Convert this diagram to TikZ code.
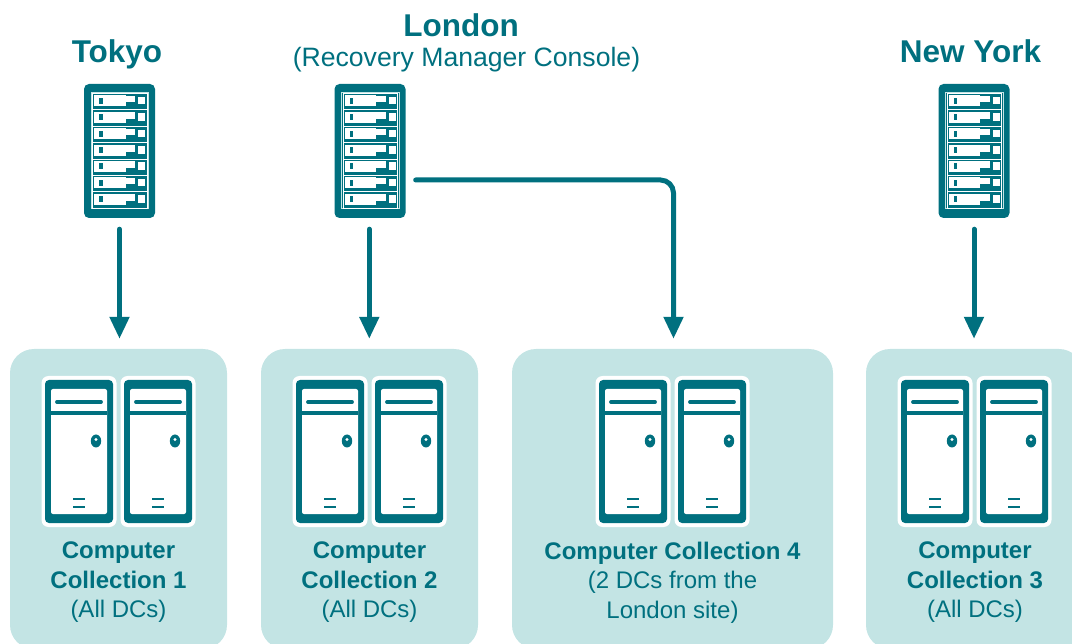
\documentclass[tikz,border=0pt]{standalone}
\usepackage{fontspec}
\setmainfont{Liberation Sans}
\usetikzlibrary{arrows.meta,calc}
\definecolor{teal1}{HTML}{00707F}
\definecolor{pale}{HTML}{C3E4E4}
\tikzset{
  x=1pt,y=-1pt,
  rackbody/.style={draw=none,fill=teal1,rounded corners=5pt,minimum width=71pt,minimum height=134pt,inner sep=0pt},
  panel/.style={draw=none,fill=pale,rounded corners=24pt,inner sep=0pt,minimum height=300pt},
  link/.style={draw=teal1,line width=5pt,line cap=round,-{Triangle[length=22pt,width=19pt]}},
  citytitle/.style={text=teal1,font=\fontsize{31.5}{34}\selectfont\bfseries,inner sep=0pt},
  sublabel/.style={text=teal1,font=\fontsize{26.6}{28}\selectfont,inner sep=0pt},
  coll/.style={text=teal1,align=center,inner sep=0pt,font=\fontsize{24}{29.5}\selectfont},
  rack/.pic={
    \draw[pale,line width=.9pt] (-28.5,-59) rectangle (29,57);
    \foreach \r in {0,...,6}{
      \begin{scope}[yshift=-\r*16.35pt]
        \draw[white,line width=.9pt] (-27,-57.4) rectangle (27.5,-41.05);
        \fill[white] (-25.5,-55.5) rectangle (6,-44.5);
        \fill[white] (6,-55) rectangle (15.5,-48.5);
        \fill[white] (18.5,-54) rectangle (25.5,-46.5);
        \fill[teal1] (-20.5,-53) rectangle (-17,-47);
      \end{scope}}
  },
  tower/.pic={
    \fill[white] (-37.5,0) [rounded corners=7pt] rectangle (37.5,151);
    \fill[teal1] (-34,4) [rounded corners=4pt] rectangle (34,147);
    \fill[white] (-28,13) [rounded corners=2pt] rectangle (28,138);
    \fill[teal1] (-28,35) rectangle (28,39);
    \draw[teal1,line width=3.8pt,line cap=round] (-22,26) -- (22,26);
    \fill[teal1] (17,65) ellipse [x radius=5.2pt,y radius=6.5pt];
    \fill[white] (17,63.5) circle [radius=1.7pt];
    \draw[teal1,line width=2.6pt] (-6,123) -- (5.5,123);
    \draw[teal1,line width=2.6pt] (-6,131) -- (5.5,131);
  },
  towerpair/.pic={
    \pic at (-39.5,0) {tower};
    \pic at (39.5,0) {tower};
  }
}
\begin{document}
\begin{tikzpicture}
\useasboundingbox (0,0) rectangle (1072,644);
\clip (0,0) rectangle (1072,644);
% panels
\node[panel,minimum width=217pt] (coll1) at (118.5,499) {};
\node[panel,minimum width=217pt] (coll2) at (369.5,499) {};
\node[panel,minimum width=321pt] (coll4) at (672.5,499) {};
\node[panel,minimum width=217pt] (coll3) at (974.5,499) {};
% racks
\node[rackbody] (tokyo) at (119.5,151) {};
\node[rackbody] (london) at (370,151) {};
\node[rackbody] (newyork) at (974,151) {};
\pic at (tokyo.center) {rack};
\pic at (london.center) {rack};
\pic at (newyork.center) {rack};
% towers
\pic at (118.5,376) {towerpair};
\pic at (369.5,376) {towerpair};
\pic at (672.5,376) {towerpair};
\pic at (974.5,376) {towerpair};
% titles
\node[citytitle] (ttokyo) at (117,54) {Tokyo};
\node[citytitle] (tlondon) at (461,25) {London};
\node[sublabel] (tconsole) at (466.5,60) {(Recovery Manager Console)};
\node[citytitle] (tnewyork) at (970.5,51) {New York};
% labels
\node[coll] (l1) at (118.5,582.5) {\textbf{Computer}\\\textbf{Collection 1}\\(All DCs)};
\node[coll] (l2) at (369.5,582.5) {\textbf{Computer}\\\textbf{Collection 2}\\(All DCs)};
\node[coll] (l4) at (672.5,582.5) {\textbf{Computer Collection 4}\\(2 DCs from the\\London site)};
\node[coll] (l3) at (975,582.5) {\textbf{Computer}\\\textbf{Collection 3}\\(All DCs)};
% connectors
\draw[link,shorten <=11pt,shorten >=10pt] (tokyo.south) -- (tokyo.south |- coll1.north);
\draw[link,shorten <=11pt,shorten >=10pt] ([xshift=-.7pt]london.south) -- ([xshift=-.7pt]london.south |- coll2.north);
\draw[link,shorten <=11pt,shorten >=10pt] (newyork.south) -- (newyork.south |- coll3.north);
\draw[link,rounded corners=13pt,shorten >=10pt] ([shift={(10pt,-29pt)}]london.east) -| ([xshift=1pt]coll4.north);
\end{tikzpicture}
\end{document}
